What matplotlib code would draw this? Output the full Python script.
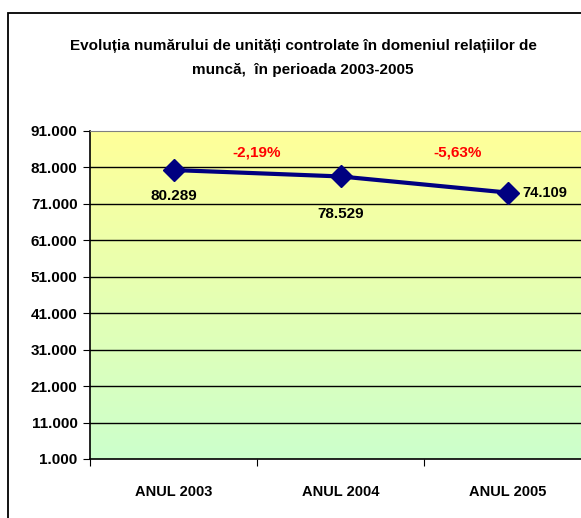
import numpy as np
import matplotlib.pyplot as plt
from matplotlib import font_manager
from matplotlib.patches import Rectangle

# data
categories = ['ANUL 2003', 'ANUL 2004', 'ANUL 2005']
values = [80289, 78529, 74109]
value_labels = ['80.289', '78.529', '74.109']
changes = ['-2,19%', '-5,63%']
yticks = [1000, 11000, 21000, 31000, 41000, 51000, 61000, 71000, 81000, 91000]
ytick_labels = ['1.000', '11.000', '21.000', '31.000', '41.000', '51.000',
                '61.000', '71.000', '81.000', '91.000']

names = {f.name for f in font_manager.fontManager.ttflist}
fam = 'Liberation Sans Narrow' if 'Liberation Sans Narrow' in names else 'Liberation Sans'
plt.rcParams['font.family'] = [fam, 'DejaVu Sans']

W, H = 581, 518
fig = plt.figure(figsize=(W / 100, H / 100), dpi=100)

# outer chart frame (cut off at right and bottom)
fig.patches.append(Rectangle((8 / W, -0.1), 1.2, 1 - 13 / H + 0.1,
                             transform=fig.transFigure, fill=False,
                             edgecolor='black', linewidth=1.3))

fig.text(303 / W, 1 - 58 / H,
         'Evoluția numărului de unități controlate în domeniul relațiilor de\nmuncă,  în perioada 2003-2005',
         ha='center', va='center', fontsize=11, fontweight='bold', linespacing=1.85)

left, right, top, bottom = 90, 591, 131, 459
ax = fig.add_axes([left / W, 1 - bottom / H, (right - left) / W, (bottom - top) / H])
ax.set_xlim(0, 3)
ax.set_ylim(1000, 91000)

# gradient background yellow -> light green
top_c = np.array([255, 255, 153]) / 255
bot_c = np.array([204, 255, 204]) / 255
t = np.linspace(0, 1, 256)[:, None]
grad = (top_c * (1 - t) + bot_c * t)[:, None, :]
ax.imshow(grad, extent=[0, 3, 1000, 91000], aspect='auto', origin='upper', zorder=0)

for y in yticks[1:-1]:
    ax.axhline(y, color='black', linewidth=1, zorder=1)

x = np.arange(len(values)) + 0.5
ax.plot(x, values, color='#000080', linewidth=3, marker='D', markersize=11, zorder=3)

ax.text(x[0], values[0] - 7100, value_labels[0], ha='center', va='center',
        fontsize=11, fontweight='bold')
ax.text(x[1], values[1] - 10300, value_labels[1], ha='center', va='center',
        fontsize=11, fontweight='bold')
ax.text(x[2] + 0.09, values[2], value_labels[2], ha='left', va='center',
        fontsize=10.5, fontweight='bold')
ax.text(1.0, 85000, changes[0], ha='center', va='center', color='red',
        fontsize=11, fontweight='bold')
ax.text(2.2, 85000, changes[1], ha='center', va='center', color='red',
        fontsize=11, fontweight='bold')

ax.set_yticks(yticks)
ax.set_yticklabels(ytick_labels, fontsize=11, fontweight='bold')
ax.set_xticks([0, 1, 2, 3])
ax.set_xticklabels([])
ax.set_xticks(x, minor=True)
ax.set_xticklabels(categories, minor=True, fontsize=10.5, fontweight='bold')
ax.tick_params(axis='x', which='minor', length=0, pad=19)
ax.tick_params(axis='x', which='major', length=5, direction='out')
ax.tick_params(axis='y', length=5, direction='out', pad=4)

ax.spines['top'].set_color('#808080')
ax.spines['right'].set_visible(False)
ax.spines['left'].set_linewidth(1.2)
ax.spines['bottom'].set_linewidth(1.2)

fig.savefig('out.png', dpi=100)
